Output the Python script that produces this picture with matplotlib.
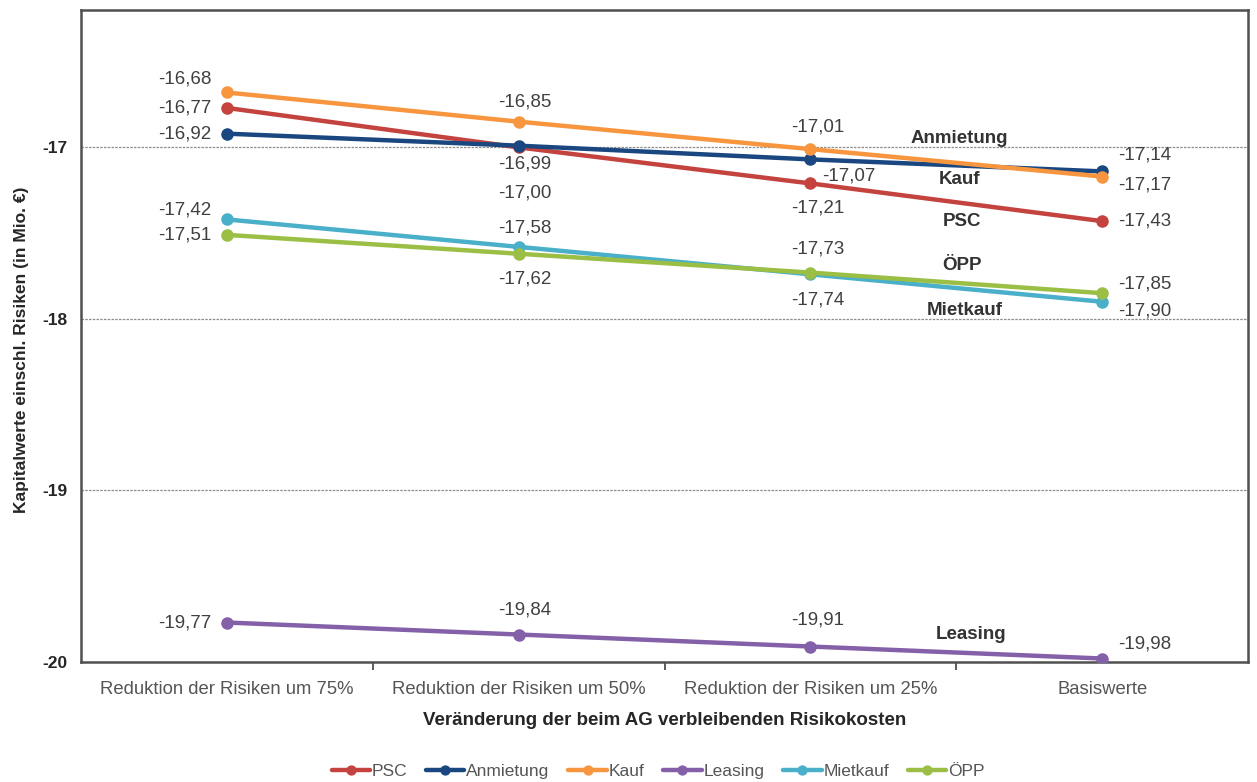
import matplotlib
matplotlib.use("Agg")
import matplotlib.pyplot as plt
from matplotlib.ticker import FixedLocator

plt.rcParams['font.family'] = ['Liberation Sans', 'DejaVu Sans']

# Szenarien auf der x-Achse
kategorien = ['Reduktion der Risiken um 75%', 'Reduktion der Risiken um 50%',
              'Reduktion der Risiken um 25%', 'Basiswerte']

# Kapitalwerte in Mio. EUR je Variante
psc = [-16.77, -17.00, -17.21, -17.43]
anmietung = [-16.92, -16.99, -17.07, -17.14]
kauf = [-16.68, -16.85, -17.01, -17.17]
leasing = [-19.77, -19.84, -19.91, -19.98]
mietkauf = [-17.42, -17.58, -17.74, -17.90]
oepp = [-17.51, -17.62, -17.73, -17.85]

namen = ['PSC', 'Anmietung', 'Kauf', 'Leasing', 'Mietkauf', 'ÖPP']
werte = [psc, anmietung, kauf, leasing, mietkauf, oepp]
farben = ['#C5433F', '#1A4780', '#F7963F', '#8460A8', '#4AAFC9', '#9BBE45']

# Versatz der Wertbeschriftungen (Pixel, x nach rechts, y nach unten) und Ausrichtung
versatz = {
    'PSC':       [(-15, 0, 'right'), (6, 46, 'center'), (7, 25, 'center'), (16, 0, 'left')],
    'Anmietung': [(-15, 0, 'right'), (6, 18, 'center'), (12, 17, 'left'), (16, -16, 'left')],
    'Kauf':      [(-15, -13, 'right'), (6, -20, 'center'), (7, -22, 'center'), (16, 8, 'left')],
    'Leasing':   [(-15, 0, 'right'), (6, -25, 'center'), (7, -27, 'center'), (16, -15, 'left')],
    'Mietkauf':  [(-15, -9, 'right'), (6, -19, 'center'), (7, 26, 'center'), (16, 9, 'left')],
    'ÖPP':       [(-15, 0, 'right'), (6, 25, 'center'), (7, -24, 'center'), (16, -9, 'left')],
}

# Reihennamen direkt im Diagramm
reihen_text = [('Anmietung', 2.51, -16.95), ('Kauf', 2.51, -17.19), ('PSC', 2.52, -17.43),
               ('ÖPP', 2.52, -17.69), ('Mietkauf', 2.53, -17.95), ('Leasing', 2.55, -19.84)]

fig = plt.figure(figsize=(12.57, 7.82), dpi=100)
ax = fig.add_axes([0.0644, 0.1535, 0.9285, 0.8335])

x = list(range(len(kategorien)))
grau = '#404040'

for y in [-17, -18, -19]:
    ax.axhline(y, color='#8c8c8c', lw=0.9, ls=(0, (2, 1)), zorder=1)

for name, vals, col in zip(namen, werte, farben):
    ax.plot(x, vals, color=col, lw=3.2, marker='o', markersize=8, label=name,
            solid_capstyle='round', zorder=3)
    for i, v in enumerate(vals):
        dx, dy, ha = versatz[name][i]
        ax.annotate(f'{v:.2f}'.replace('.', ','), (i, v), xytext=(dx, -dy),
                    textcoords='offset pixels', ha=ha, va='center',
                    fontsize=13.5, color=grau, zorder=4)

for txt, tx, ty in reihen_text:
    ax.text(tx, ty, txt, ha='center', va='center', fontsize=13.5,
            fontweight='bold', color='#333333', zorder=4)

ax.set_xlim(-0.5, 3.5)
ax.set_ylim(-20, -16.2)
ax.set_yticks([-20, -19, -18, -17])
ax.set_yticklabels(['-20', '-19', '-18', '-17'], fontweight='bold', fontsize=12.5, color='#262626')
ax.set_xticks(x)
ax.set_xticklabels(kategorien, fontsize=13.3, color='#555555')
ax.xaxis.set_minor_locator(FixedLocator([0.5, 1.5, 2.5]))
ax.tick_params(axis='x', which='major', length=0, pad=14)
ax.tick_params(axis='x', which='minor', length=6, width=1.2, color=grau)
ax.tick_params(axis='y', length=0, pad=10)

for sp in ax.spines.values():
    sp.set_color('#505050')
    sp.set_linewidth(1.8)

ax.set_xlabel('Veränderung der beim AG verbleibenden Risikokosten', fontsize=13.5,
              fontweight='bold', color='#262626', labelpad=10)
ax.set_ylabel('Kapitalwerte einschl. Risiken (in Mio. €)', fontsize=12.5,
              fontweight='bold', color='#262626')
ax.yaxis.set_label_coords(-0.0443, 0.479)

fig.legend(loc='center', bbox_to_anchor=(0.5235, 0.014), ncol=6, frameon=False,
           fontsize=12.5, handlelength=2.2, handletextpad=0.1, columnspacing=1.1,
           labelcolor='#555555', markerscale=0.8)

fig.savefig('out.png', dpi=100)
